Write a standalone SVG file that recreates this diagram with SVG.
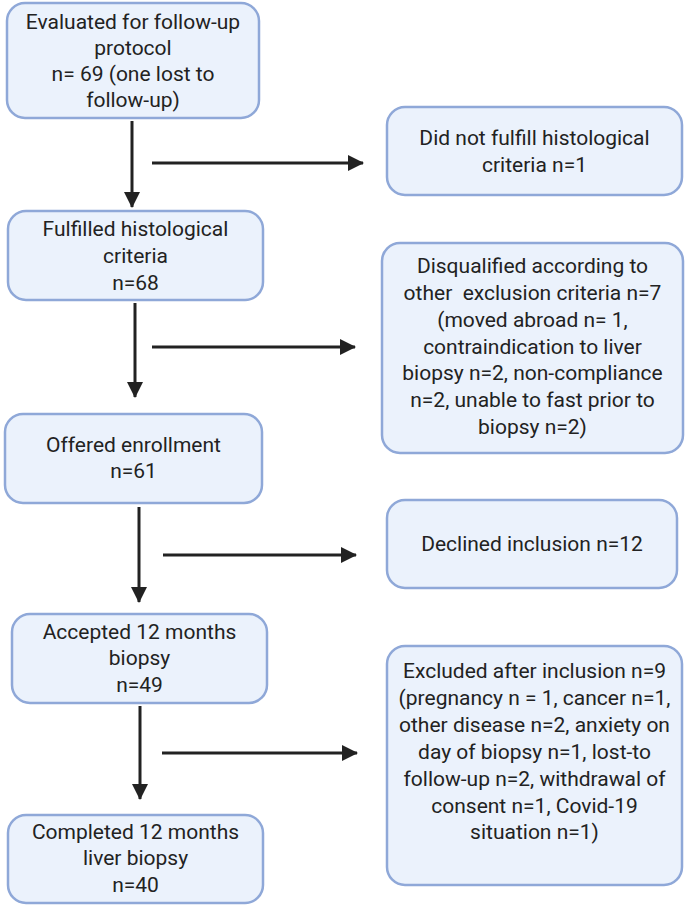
<svg xmlns="http://www.w3.org/2000/svg" width="688" height="909" viewBox="0 0 688 909">
<defs>
<style>
.box{fill:#EBF2FC;stroke:#8FA8D8;stroke-width:2.5}
.t{font-family:Roboto,"Liberation Sans",sans-serif;font-size:21px;fill:#222;text-anchor:middle}
.c{stroke:#222;stroke-width:3;fill:none}
.pre{white-space:pre}
</style>
<marker id="ah" markerUnits="userSpaceOnUse" markerWidth="16" markerHeight="16" viewBox="0 0 16 16" refX="15" refY="8" orient="auto">
<path d="M0,0 L16,8 L0,16 Z" fill="#222"/>
</marker>
</defs>
<rect width="688" height="909" fill="#fff"/>
<g id="n1"><rect class="box" x="7" y="3" width="252" height="115" rx="18"/>
<text class="t"><tspan x="133" y="29">Evaluated for follow-up</tspan><tspan x="133" y="55">protocol</tspan><tspan x="133" y="81">n= 69 (one lost to</tspan><tspan x="133" y="107">follow-up)</tspan></text></g>
<g id="n2"><rect class="box" x="387" y="107" width="295" height="88" rx="18"/>
<text class="t"><tspan x="534.5" y="145">Did not fulfill histological</tspan><tspan x="534.5" y="172">criteria n=1</tspan></text></g>
<g id="n3"><rect class="box" x="8" y="211" width="255" height="89" rx="18"/>
<text class="t"><tspan x="135.5" y="236">Fulfilled histological</tspan><tspan x="135.5" y="263">criteria</tspan><tspan x="135.5" y="290">n=68</tspan></text></g>
<g id="n4"><rect class="box" x="382" y="243" width="301" height="210" rx="18"/>
<text class="t"><tspan x="532.5" y="273">Disqualified according to</tspan><tspan class="pre" x="532.5" y="300">other  exclusion criteria n=7</tspan><tspan x="532.5" y="327">(moved abroad n= 1,</tspan><tspan x="532.5" y="354">contraindication to liver</tspan><tspan x="532.5" y="380">biopsy n=2, non-compliance</tspan><tspan x="532.5" y="407">n=2, unable to fast prior to</tspan><tspan x="532.5" y="434">biopsy n=2)</tspan></text></g>
<g id="n5"><rect class="box" x="5" y="414" width="257" height="89" rx="18"/>
<text class="t"><tspan x="133.5" y="452">Offered enrollment</tspan><tspan x="133.5" y="478">n=61</tspan></text></g>
<g id="n6"><rect class="box" x="387" y="500" width="290" height="88" rx="18"/>
<text class="t"><tspan x="532" y="551">Declined inclusion n=12</tspan></text></g>
<g id="n7"><rect class="box" x="12" y="614" width="255" height="89" rx="18"/>
<text class="t"><tspan x="139.5" y="639">Accepted 12 months</tspan><tspan x="139.5" y="665">biopsy</tspan><tspan x="139.5" y="692">n=49</tspan></text></g>
<g id="n8"><rect class="box" x="387" y="646" width="295" height="239" rx="18"/>
<text class="t"><tspan x="534.5" y="678">Excluded after inclusion n=9</tspan><tspan x="534.5" y="705">(pregnancy n = 1, cancer n=1,</tspan><tspan x="534.5" y="732">other disease n=2, anxiety on</tspan><tspan x="534.5" y="759">day of biopsy n=1, lost-to</tspan><tspan x="534.5" y="786">follow-up n=2, withdrawal of</tspan><tspan x="534.5" y="813">consent n=1, Covid-19</tspan><tspan x="534.5" y="839">situation n=1)</tspan></text></g>
<g id="n9"><rect class="box" x="8" y="815" width="255" height="88" rx="18"/>
<text class="t"><tspan x="135.5" y="839">Completed 12 months</tspan><tspan x="135.5" y="865">liver biopsy</tspan><tspan x="135.5" y="892">n=40</tspan></text></g>
<g id="connectors">
<line class="c" x1="132" y1="121" x2="132" y2="207" marker-end="url(#ah)"/>
<line class="c" x1="152" y1="163" x2="363" y2="163" marker-end="url(#ah)"/>
<line class="c" x1="135" y1="303" x2="135" y2="397" marker-end="url(#ah)"/>
<line class="c" x1="152" y1="347" x2="355" y2="347" marker-end="url(#ah)"/>
<line class="c" x1="139" y1="507" x2="139" y2="602" marker-end="url(#ah)"/>
<line class="c" x1="163" y1="555" x2="356" y2="555" marker-end="url(#ah)"/>
<line class="c" x1="140" y1="706" x2="140" y2="799" marker-end="url(#ah)"/>
<line class="c" x1="162" y1="753" x2="357" y2="753" marker-end="url(#ah)"/>
</g>
</svg>
